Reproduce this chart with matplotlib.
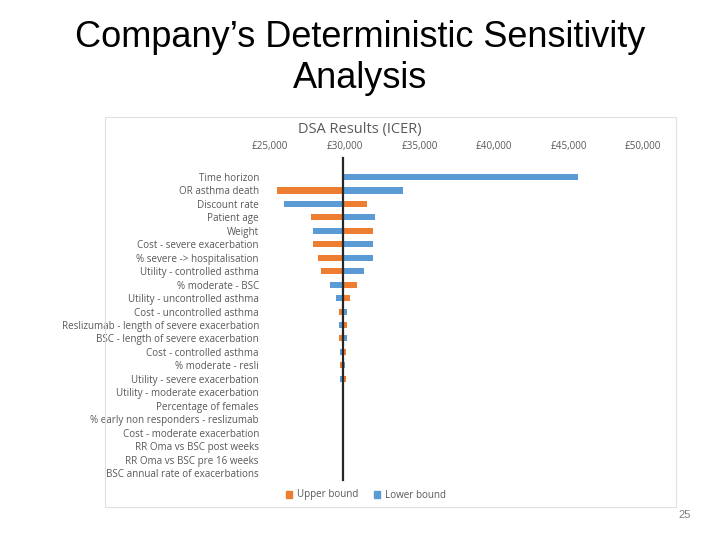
import matplotlib.pyplot as plt
import numpy as np
from matplotlib.patches import Rectangle, Patch

# base case ICER and DSA results
base_icer = 29900

params = [
    "Time horizon",
    "OR asthma death",
    "Discount rate",
    "Patient age",
    "Weight",
    "Cost - severe exacerbation",
    "% severe -> hospitalisation",
    "Utility - controlled asthma",
    "% moderate - BSC",
    "Utility - uncontrolled asthma",
    "Cost - uncontrolled asthma",
    "Reslizumab - length of severe exacerbation",
    "BSC - length of severe exacerbation",
    "Cost - controlled asthma",
    "% moderate - resli",
    "Utility - severe exacerbation",
    "Utility - moderate exacerbation",
    "Percentage of females",
    "% early non responders - reslizumab",
    "Cost - moderate exacerbation",
    "RR Oma vs BSC post weeks",
    "RR Oma vs BSC pre 16 weeks",
    "BSC annual rate of exacerbations",
]
upper_bound = [29900, 25490, 31520, 27770, 31920, 27900, 28240, 28390, 30800, 30380,
               29625, 30160, 29645, 30095, 29720, 30060, 29800, 29800, 29900, 29900,
               29900, 29900, 29900]
lower_bound = [45650, 33910, 25940, 32040, 27900, 31900, 31900, 31320, 29000, 29400,
               30160, 29625, 30160, 29710, 30040, 29720, 29960, 29960, 29900, 29900,
               29900, 29900, 29900]
x_ticks = [25000, 30000, 35000, 40000, 45000, 50000]
x_tick_labels = ["£25,000", "£30,000", "£35,000", "£40,000", "£45,000", "£50,000"]

orange = "#ED7D31"
blue = "#5B9BD5"
txt = "#595959"

fig = plt.figure(figsize=(7.2, 5.4), dpi=100)

# slide title
fig.text(0.5, 1 - 58 / 540, "Company\u2019s Deterministic Sensitivity\nAnalysis", ha="center", va="center",
         fontsize=26, family="Liberation Sans", color="black", linespacing=1.2)
fig.text(685 / 720, 1 - 515 / 540, "25", ha="center", va="center", fontsize=8,
         family="Liberation Sans", color="#808080")

# chart area border
fig.patches.append(Rectangle((105 / 720, 1 - 507 / 540), 571 / 720, 390 / 540,
                             transform=fig.transFigure, fill=False, edgecolor="#E0E0E0", lw=0.8))

ax = fig.add_axes([270 / 720, 1 - 479.7 / 540, 373.3 / 720, 309.4 / 540])
y = np.arange(len(params))
up = np.array(upper_bound) - base_icer
lo = np.array(lower_bound) - base_icer
ax.barh(y, up, left=base_icer, height=0.45, color=orange, label="Upper bound")
ax.barh(y, lo, left=base_icer, height=0.45, color=blue, label="Lower bound")
ax.plot([base_icer, base_icer], [-1.4, 22.5], color="#262626", lw=1.6, clip_on=False, zorder=5)

ax.set_xlim(25000, 50000)
ax.set_ylim(22.5, -0.5)
ax.set_yticks(y)
ax.set_yticklabels(params, family="Open Sans", fontsize=7.1, color=txt)
ax.xaxis.tick_top()
ax.set_xticks(x_ticks)
ax.set_xticklabels(x_tick_labels, family="Open Sans", fontsize=7.1, color=txt)
ax.tick_params(axis="both", length=0)
ax.tick_params(axis="x", pad=13)
ax.tick_params(axis="y", pad=8)
for s in ax.spines.values():
    s.set_visible(False)

fig.text(360 / 720, 1 - 130 / 540, "DSA Results (ICER)", ha="center", va="center",
         fontsize=10.5, family="Open Sans", color=txt)

handles = [Patch(color=orange, label="Upper bound"), Patch(color=blue, label="Lower bound")]
fig.legend(handles=handles, loc="center", bbox_to_anchor=(366 / 720, 1 - 495 / 540), ncol=2,
           frameon=False, prop={"family": "Open Sans", "size": 7.1}, labelcolor=txt,
           handlelength=0.7, handleheight=0.7, columnspacing=1.5, handletextpad=0.5)

fig.savefig("out.png", dpi=100)
